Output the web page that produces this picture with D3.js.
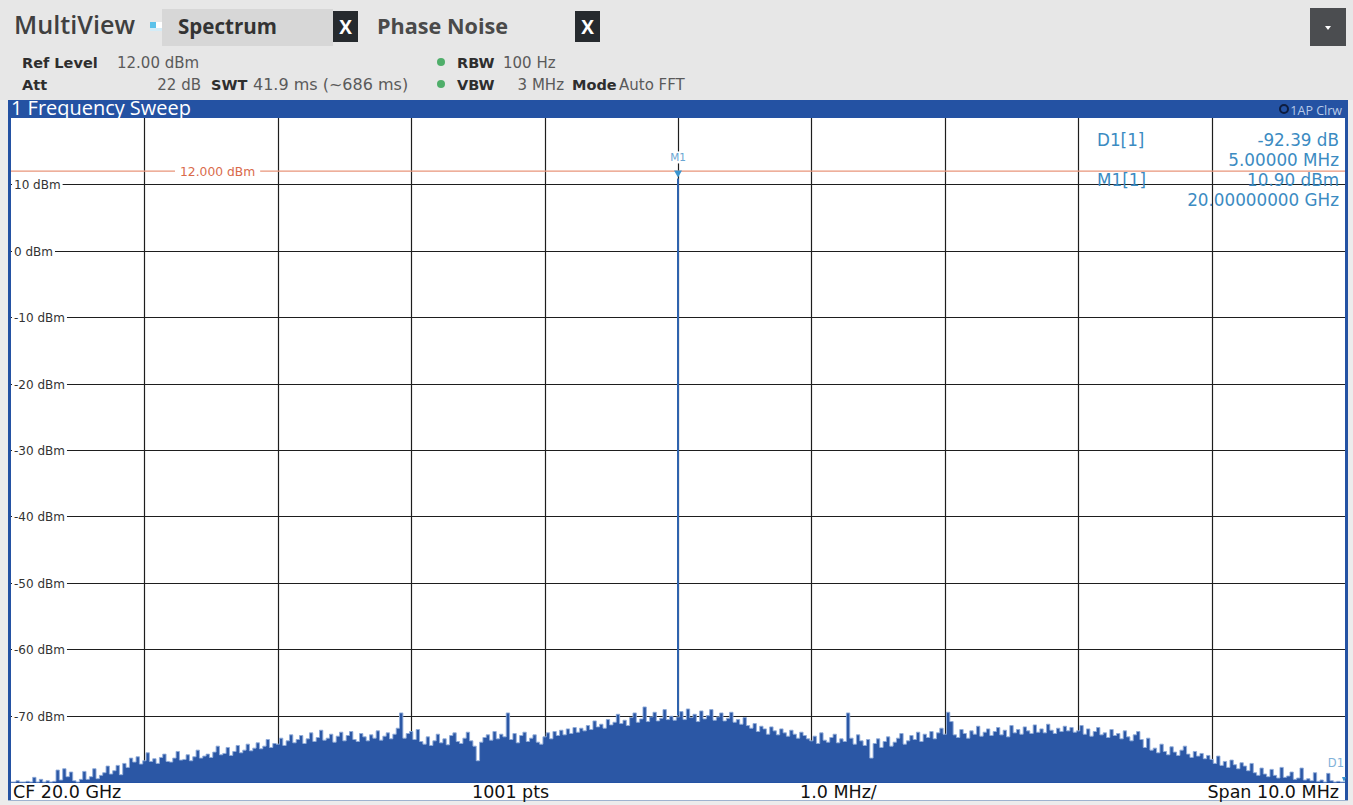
<!DOCTYPE html>
<html><head><meta charset="utf-8">
<script src="https://cdn.jsdelivr.net/npm/d3@7"></script>
<style>
html,body{margin:0;padding:0;background:#ececec;}
svg{display:block;}
</style></head>
<body>
<svg id="chart" width="1353" height="805"></svg>
<script>
// ---------------- data ----------------
const spanMHz = [-5, 5];            // offset from CF 20.0 GHz
const levelRange = [-80, 20];       // dBm
const yTicks = [10, 0, -10, -20, -30, -40, -50, -60, -70];
const xDivs = [-4, -3, -2, -1, 0, 1, 2, 3, 4];
const refLevel = 12;
const carrierOffset = 0;            // MHz
const carrierLevel = 10.9;          // dBm (M1)
const d1Offset = 5;                 // MHz
// trace (dBm), 401 points, 0.025 MHz apart
const noiseDbm = [
// -5 .. -4 MHz
-80,-80,-79.8,-80,-80,-79.9,-80,-79.3,-80,-79.6,-80,-79.8,-80,-79.9,-78.2,-79.7,-78.0,-79.2,-78.5,-79.8,
-80,-79.6,-78.4,-79.6,-79.2,-78.0,-79.5,-79.0,-78.6,-77.6,-78.8,-78.3,-77.5,-78.9,-77.2,-77.8,-76.4,-77.0,-76.2,-77.3,
// -4 .. -3
-76.8,-75.6,-76.9,-76.5,-77.2,-76.3,-75.8,-76.9,-77.0,-76.4,-75.4,-76.7,-76.6,-75.9,-76.8,-76.2,-75.2,-76.4,-76.1,-75.8,
-76.3,-75.5,-74.6,-75.9,-75.7,-74.8,-76.0,-75.4,-74.5,-75.6,-75.2,-74.3,-75.3,-74.9,-74.1,-75.0,-74.6,-73.6,-74.8,-74.2,
// -3 .. -2
-74.3,-73.4,-74.5,-73.8,-72.9,-74.1,-73.6,-73.0,-74.2,-73.5,-72.6,-73.9,-73.3,-72.2,-73.7,-73.4,-72.8,-74.0,-73.1,-72.5,
-73.8,-73.0,-72.4,-73.6,-73.9,-72.7,-73.2,-73.8,-72.9,-73.4,-72.3,-73.7,-73.1,-72.6,-73.5,-72.8,-71.9,-69.6,-73.4,-72.7,
// -2 .. -1
-72.4,-73.6,-72.1,-73.9,-74.3,-73.2,-74.5,-73.8,-72.8,-74.1,-73.5,-74.4,-73.0,-72.6,-73.9,-74.2,-73.4,-72.5,-73.8,-74.6,
-76.8,-74.0,-73.3,-72.9,-73.7,-72.4,-73.5,-72.8,-73.2,-69.6,-73.6,-72.7,-74.1,-73.0,-72.5,-73.9,-73.4,-72.9,-74.0,-74.3,
// -1 .. 0
-73.2,-72.6,-73.5,-72.4,-73.0,-72.2,-72.9,-72.0,-72.7,-71.8,-72.5,-71.9,-72.3,-71.5,-72.1,-70.8,-71.7,-71.3,-71.9,-70.6,
-71.4,-71.0,-69.8,-71.2,-70.7,-71.5,-70.3,-69.6,-71.0,-70.5,-68.7,-70.9,-70.2,-69.5,-70.8,-70.4,-69.1,-70.6,-70.1,-70.7,
// 0 .. 1
-70.2,-69.4,-70.6,-69.0,-70.3,-69.8,-70.9,-69.3,-70.5,-70.0,-69.1,-70.7,-70.2,-69.6,-70.8,-70.4,-69.5,-71.0,-70.6,-71.3,
-70.3,-71.5,-71.9,-71.2,-72.4,-71.6,-72.0,-72.8,-71.7,-72.3,-72.9,-72.0,-72.6,-73.1,-72.2,-72.8,-73.4,-72.5,-73.0,-73.5,
// 1 .. 2
-73.8,-73.1,-74.2,-72.6,-73.7,-74.0,-73.3,-72.8,-74.1,-73.5,-73.9,-69.6,-73.4,-74.3,-72.9,-73.8,-74.5,-73.6,-76.4,-74.2,
-73.5,-74.8,-73.9,-73.2,-74.6,-74.0,-73.4,-72.7,-74.3,-73.8,-73.0,-73.6,-72.5,-73.9,-72.8,-73.3,-72.4,-73.5,-72.6,-71.9,
// 2 .. 3
-72.8,-69.5,-70.9,-72.9,-73.3,-72.1,-72.7,-73.4,-72.3,-72.8,-71.6,-73.1,-72.5,-72.0,-73.0,-72.4,-71.8,-72.9,-72.2,-73.2,
-71.5,-72.6,-72.1,-72.8,-71.7,-72.3,-72.7,-71.4,-72.5,-72.0,-72.6,-71.3,-72.2,-72.7,-71.9,-72.4,-71.6,-72.3,-71.8,-72.5,
// 3 .. 4
-72.3,-71.5,-72.8,-72.0,-73.1,-72.4,-71.8,-72.9,-72.6,-73.3,-72.1,-73.0,-72.7,-73.5,-72.3,-73.2,-73.8,-72.9,-72.4,-73.6,
-74.8,-73.4,-75.2,-74.9,-75.6,-74.3,-75.4,-75.9,-74.7,-75.5,-76.0,-75.2,-74.6,-75.8,-76.3,-75.4,-76.1,-75.7,-76.5,-76.0,
// 4 .. 5
-76.6,-77.2,-76.1,-77.5,-76.9,-77.8,-76.7,-77.4,-78.0,-77.1,-77.6,-78.3,-77.2,-78.6,-79.0,-77.9,-78.8,-79.2,-78.1,-79.0,
-79.4,-77.8,-79.3,-79.1,-78.5,-79.6,-79.4,-77.9,-79.7,-79.5,-79.8,-78.6,-79.9,-79.7,-80.0,-78.7,-79.8,-80.0,-79.9,-80.0,
-80
];
const markerTable = [
  ["D1[1]", "-92.39 dB", "5.00000 MHz"],
  ["M1[1]", "10.90 dBm", "20.00000000 GHz"]
];
const footer = ["CF 20.0 GHz", "1001 pts", "1.0 MHz/", "Span 10.0 MHz"];

// ---------------- drawing ----------------
const svg = d3.select("#chart");
const W = 1353, H = 805;
const L = 11, R = 1345, T = 118, B = 782;
const x = d3.scaleLinear().domain(spanMHz).range([L, R]);
const y = d3.scaleLinear().domain(levelRange).range([B, T]);
const step = (spanMHz[1]-spanMHz[0])/(noiseDbm.length-1);
const trace = noiseDbm.map((v,i)=>({f: spanMHz[0]+i*step, v}));

const hdrFont = "'Open Sans','DejaVu Sans',sans-serif";
const dvFont = "'DejaVu Sans',Verdana,sans-serif";

function fit(sel, target){
  const w = sel.node().getComputedTextLength();
  const fs = +sel.attr("font-size");
  if (w > 0) sel.attr("font-size", (fs*target/w).toFixed(2));
  return sel;
}
function txt(xp, yp, s, opt){
  opt = opt || {};
  const e = svg.append("text").attr("x",xp).attr("y",yp)
    .attr("font-family",opt.font||hdrFont).attr("font-weight",opt.weight||400)
    .attr("font-size",opt.size||14).attr("fill",opt.fill||"#333")
    .attr("text-anchor",opt.anchor||"start").text(s);
  if (opt.w) fit(e, opt.w);
  return e;
}

// background
svg.append("rect").attr("width",W).attr("height",H).attr("fill","#ececec");
svg.append("rect").attr("x",0).attr("y",0).attr("width",W).attr("height",100).attr("fill","#e7e7e7");

// tabs
svg.append("rect").attr("x",162).attr("y",9).attr("width",171).attr("height",37).attr("fill","#d7d7d7");
txt(14,34,"MultiView",{weight:600,size:18,fill:"#404040",w:121});
svg.append("rect").attr("x",150).attr("y",22).attr("width",6).attr("height",6).attr("fill","#5cc2ea");
svg.append("rect").attr("x",156).attr("y",22).attr("width",6).attr("height",6).attr("fill","#ffffff");
svg.append("rect").attr("x",150).attr("y",28).attr("width",12).attr("height",3).attr("fill","#d4ecf7");
txt(178,34,"Spectrum",{weight:700,size:18,fill:"#333",w:99});
function xBox(x0){
  svg.append("rect").attr("x",x0).attr("y",11).attr("width",25).attr("height",31).attr("fill","#262a2e");
  txt(x0+12.5,34,"X",{weight:700,size:19,fill:"#fff",anchor:"middle"});
}
xBox(333);
txt(377,34,"Phase Noise",{weight:700,size:18,fill:"#4a4a4a",w:131});
xBox(575);
svg.append("rect").attr("x",1310).attr("y",8).attr("width",36).attr("height",38).attr("fill","#4b4d50");
svg.append("path").attr("d","M1325,26 L1331,26 L1328,30 Z").attr("fill","#fff");

// settings rows
const B1 = {font:dvFont,weight:700,size:14.5,fill:"#2e2e2e"}, N1 = {font:dvFont,weight:400,size:15,fill:"#5a5a5a"};
txt(22,68,"Ref Level",B1); txt(117,68,"12.00 dBm",N1);
svg.append("circle").attr("cx",441).attr("cy",62).attr("r",4).attr("fill","#4fae6a");
txt(457,68,"RBW",B1); txt(503,68,"100 Hz",N1);
txt(22,90,"Att",B1); txt(201,90,"22 dB",{...N1,anchor:"end"});
txt(211,90,"SWT",B1); txt(253,90,"41.9 ms (~686 ms)",{...N1,size:16});
svg.append("circle").attr("cx",441).attr("cy",84).attr("r",4).attr("fill","#4fae6a");
txt(457,90,"VBW",B1); txt(564,90,"3 MHz",{...N1,anchor:"end"});
txt(572,90,"Mode",B1); txt(619,90,"Auto FFT",N1);

// title bar
svg.append("rect").attr("x",8).attr("y",100).attr("width",1340).attr("height",18).attr("fill","#2452a3");
txt(11,115,"1 Frequency Sweep",{size:16,fill:"#fff",w:180});
svg.append("circle").attr("cx",1284).attr("cy",109).attr("r",4).attr("fill","none").attr("stroke","#0e1d3f").attr("stroke-width",2);
txt(1342,114.5,"1AP Clrw",{size:12.5,fill:"#b9cbe8",anchor:"end"});

// plot frame
svg.append("rect").attr("x",8).attr("y",T).attr("width",1340).attr("height",683).attr("fill","#2452a3");
svg.append("rect").attr("x",L).attr("y",T).attr("width",R-L).attr("height",B-T).attr("fill","#fff");

// grid
const g = svg.append("g");
g.selectAll("line.v").data(xDivs).join("line").attr("class","v")
  .attr("x1",d=>Math.round(x(d))+0.5).attr("x2",d=>Math.round(x(d))+0.5).attr("y1",T).attr("y2",B)
  .attr("stroke","#1e1e1e").attr("stroke-width",1.2);
g.selectAll("line.h").data(yTicks).join("line").attr("class","h")
  .attr("x1",L).attr("x2",R).attr("y1",d=>Math.round(y(d))+0.5).attr("y2",d=>Math.round(y(d))+0.5)
  .attr("stroke","#1e1e1e").attr("stroke-width",1.2);

// ref level line
svg.append("line").attr("x1",L).attr("x2",R).attr("y1",y(refLevel)).attr("y2",y(refLevel))
  .attr("stroke","#e8957a").attr("stroke-width",1.2);

// y labels (with white bg)
yTicks.forEach(v=>{
  const yy = Math.round(y(v))+0.5;
  const tx = txt(14,yy+4.5,v+" dBm",{font:dvFont,size:12,fill:"#333"});
  const bb = tx.node().getBBox();
  svg.insert("rect","text:last-of-type").attr("x",L+1).attr("y",yy-7).attr("width",bb.x+bb.width-L+1).attr("height",14).attr("fill","#fff");
});

// ref label
{
  const tx = txt(180,y(refLevel)+4.5,refLevel.toFixed(3)+" dBm",{font:dvFont,size:12.3,fill:"#d96a4a"});
  const bb = tx.node().getBBox();
  svg.insert("rect","text:last-of-type").attr("x",bb.x-5).attr("y",bb.y).attr("width",bb.width+10).attr("height",bb.height).attr("fill","#fff");
}

// trace
const area = d3.area().x(d=>x(d.f)).y0(y(levelRange[0])).y1(d=>y(Math.max(d.v,levelRange[0]))).curve(d3.curveStep);
svg.append("path").datum(trace).attr("d",area).attr("fill","#2b57a5");
const line = d3.line().x(d=>x(d.f)).y(d=>y(Math.max(d.v,levelRange[0]))).curve(d3.curveStep);
svg.append("path").datum(trace).attr("d",line).attr("fill","none").attr("stroke","#90acd9").attr("stroke-width",0.9);
// carrier
svg.append("line").attr("x1",x(carrierOffset)).attr("x2",x(carrierOffset))
  .attr("y1",y(-70)).attr("y2",y(carrierLevel)).attr("stroke","#2f63ad").attr("stroke-width",2);

// M1 marker
{
  const mx = x(carrierOffset), my = y(carrierLevel);
  svg.append("path").attr("d",`M${mx-4},${my-8} L${mx+4},${my-8} L${mx},${my-1} Z`).attr("fill","#3a95d0");
  const tx = txt(mx,my-17,"M1",{font:dvFont,size:10.5,fill:"#6aa6d2",anchor:"middle"});
  const bb = tx.node().getBBox();
  svg.insert("rect","text:last-of-type").attr("x",bb.x-1).attr("y",bb.y).attr("width",bb.width+2).attr("height",bb.height).attr("fill","#fff");
}
// D1 marker + label
txt(x(d1Offset)-1,767,"D1",{font:dvFont,size:11.5,fill:"#7fb2da",anchor:"end"});
svg.append("path").attr("d",`M${x(d1Offset)-3},${B-5} L${x(d1Offset)+1},${B-5} L${x(d1Offset)-1},${B} Z`).attr("fill","#3a95d0");

// marker table
const mtColor = "#3b8bc2";
const MT = 16.8;
markerTable.forEach((r,i)=>{
  const y0 = 146 + i*40;
  txt(1097,y0,r[0],{font:dvFont,size:MT,fill:mtColor});
  txt(1339,y0,r[1],{font:dvFont,size:MT,fill:mtColor,anchor:"end"});
  txt(1339,y0+20,r[2],{font:dvFont,size:MT,fill:mtColor,anchor:"end"});
});

// footer bar
svg.append("rect").attr("x",L).attr("y",783).attr("width",R-L).attr("height",17).attr("fill","#fff");
svg.append("line").attr("x1",8).attr("x2",1348).attr("y1",800.5).attr("y2",800.5).attr("stroke","#9fb3d0");
const FS = 17.5;
txt(13,798,footer[0],{font:dvFont,size:FS,fill:"#111"});
txt(472,798,footer[1],{font:dvFont,size:FS,fill:"#111"});
txt(800,798,footer[2],{font:dvFont,size:FS,fill:"#111"});
txt(1339,798,footer[3],{font:dvFont,size:FS,fill:"#111",anchor:"end"});
</script>
</body></html>
